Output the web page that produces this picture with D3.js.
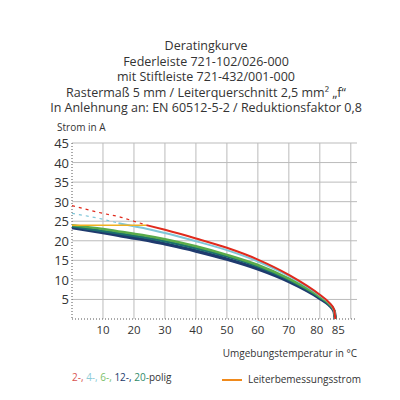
<!DOCTYPE html>
<html><head><meta charset="utf-8">
<script src="https://cdn.jsdelivr.net/npm/d3@7"></script>
<style>body{margin:0;background:#fff}text{font-family:"Open Sans",sans-serif}</style>
</head><body><div id="chart"></div>
<script>
const titleLines = ["Deratingkurve","Federleiste 721-102/026-000","mit Stiftleiste 721-432/001-000",
  "Rastermaß 5 mm / Leiterquerschnitt 2,5 mm² „f“","In Anlehnung an: EN 60512-5-2 / Reduktionsfaktor 0,8"];
const xTicks = [10,20,30,40,50,60,70,80,85];
const yTicks = [5,10,15,20,25,30,35,40,45];
const temps = [0,10,15,20,24,30,40,50,60,70,80,83,84.6,85];
const s2  = [29,27,26.2,25,24,22.8,20.6,18.2,15.2,11.3,6.2,4.2,2.4,0];
const s4  = [27,25.5,24.5,23.7,23.1,22,19.9,17.6,14.7,11,6,4.1,2.3,0];
const s6  = [24,23,22.4,21.8,21.3,20.4,18.6,16.4,13.8,10.3,5.7,3.9,2.2,0];
const s20 = [23.7,22.5,21.9,21.3,20.8,19.9,18.1,16,13.4,10,5.5,3.7,2.1,0];
const s12 = [23.4,22.1,21.4,20.7,20.2,19.2,17.4,15.3,12.8,9.6,5.3,3.6,2,0];
const ratedT = [0,24], ratedI = [24,24];
const dashEnd = {s2:24, s4:15};

const svg = d3.select("#chart").append("svg").attr("width",400).attr("height",400);
const x = d3.scaleLinear().domain([0,92]).range([72,357]);
const y = d3.scaleLinear().domain([0,45]).range([319,143]);

svg.selectAll("text.t").data(titleLines).enter().append("text")
  .attr("x",206).attr("y",(d,i)=>50+i*15.5).attr("text-anchor","middle")
  .attr("font-size",12.5).attr("fill","#333").text(d=>d);
svg.append("text").attr("x",57).attr("y",131).attr("font-size",10).attr("fill","#333").text("Strom in A");

const g = svg.append("g");
g.selectAll("line.v").data(d3.range(10,100,10)).enter().append("line")
  .attr("x1",d=>x(d)).attr("x2",d=>x(d)).attr("y1",y(45)).attr("y2",y(0)).attr("stroke","#bbb");
g.selectAll("line.h").data(yTicks).enter().append("line")
  .attr("x1",x(0)).attr("x2",x(92)).attr("y1",d=>y(d)).attr("y2",d=>y(d)).attr("stroke","#bbb");
g.append("line").attr("x1",x(0)).attr("x2",x(0)).attr("y1",y(45)).attr("y2",y(0)).attr("stroke","#555").attr("stroke-dasharray","1,2");
g.append("line").attr("x1",x(0)).attr("x2",x(92)).attr("y1",y(0)).attr("y2",y(0)).attr("stroke","#555").attr("stroke-dasharray","1,2");

svg.selectAll("text.yl").data(yTicks).enter().append("text")
  .attr("x",x(0)-3).attr("y",d=>y(d)+5).attr("text-anchor","end").attr("font-size",13).attr("fill","#333").text(d=>d);
svg.selectAll("text.xl").data(xTicks).enter().append("text")
  .attr("x",d=>x(d)+(d===80?-3:d===85?3:0)).attr("y",y(0)+15).attr("text-anchor","middle").attr("font-size",11.5).attr("fill","#333").text(d=>d);
svg.append("text").attr("x",x(92)).attr("y",357).attr("text-anchor","end").attr("font-size",10).attr("fill","#333").text("Umgebungstemperatur in °C");

const line = d3.line().x(d=>x(d[0])).y(d=>y(d[1])).curve(d3.curveMonotoneX);
function draw(vals,color,w,dashTo){
  const pts = temps.map((t,i)=>[t,vals[i]]);
  if(dashTo){
    g.append("path").attr("d",line(pts.filter(p=>p[0]<=dashTo))).attr("fill","none")
      .attr("stroke",color).attr("stroke-width",1.2).attr("stroke-dasharray","3,4");
    g.append("path").attr("d",line(pts.filter(p=>p[0]>=dashTo))).attr("fill","none").attr("stroke",color).attr("stroke-width",w);
  } else g.append("path").attr("d",line(pts)).attr("fill","none").attr("stroke",color).attr("stroke-width",w);
}
draw(s12,"#1f3a6e",3.5);
draw(s20,"#1b6e6e",2.5);
draw(s6,"#5aab4a",2.5);
draw(s4,"#7fc6d8",2,dashEnd.s4);
g.append("path").attr("d",line(ratedT.map((t,i)=>[t,ratedI[i]]))).attr("fill","none").attr("stroke","#f0b020").attr("stroke-width",1.5);
draw(s2,"#e02a1c",2,dashEnd.s2);

const leg = svg.append("text").attr("x",72).attr("y",381).attr("font-size",10);
[["2-, ","#d9534f"],["4-, ","#8ccbd6"],["6-, ","#7cbf6a"],["12-, ","#233a6b"],["20-","#2f8a6a"],["polig","#333"]]
  .forEach(([t,c])=>leg.append("tspan").attr("fill",c).text(t));
svg.append("line").attr("x1",222).attr("x2",242).attr("y1",380).attr("y2",380).attr("stroke","#f08a1c").attr("stroke-width",2);
svg.append("text").attr("x",248).attr("y",383).attr("font-size",10).attr("fill","#333").text("Leiterbemessungsstrom");
</script></body></html>
